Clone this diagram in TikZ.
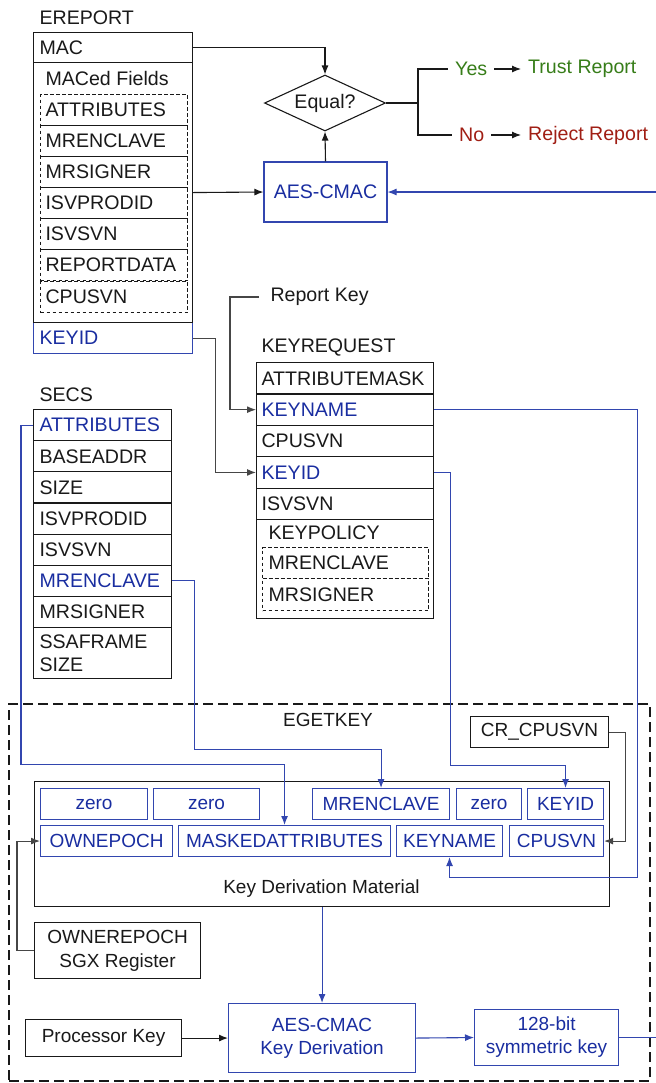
\documentclass[tikz,border=0pt]{standalone}
\usepackage{fontspec}
\setmainfont{Liberation Sans}
\usepackage{xcolor}
\usepackage{tikz}
\usetikzlibrary{shapes.geometric}
\usetikzlibrary{arrows.meta}
\usetikzlibrary{positioning}

\definecolor{ink}{RGB}{25,25,25}
\definecolor{wiregray}{RGB}{70,70,70}
\definecolor{kblue}{RGB}{25,45,160}
\definecolor{kline}{RGB}{50,70,175}
\definecolor{yesgreen}{RGB}{55,125,25}
\definecolor{nored}{RGB}{160,30,20}

\newcommand{\fieldfont}{\fontsize{9.8}{11.5}\selectfont}
\newcommand{\kdmfont}{\fontsize{9.5}{11.5}\selectfont}

\begin{document}
\begin{tikzpicture}[
    x=0.5pt, y=-0.5pt, line width=0.55pt,
    >={Latex[length=4.5pt,width=3.5pt]},
    every node/.style={font=\fieldfont, text=ink},
    field/.style={draw=ink, anchor=north west, inner xsep=3pt, inner ysep=0pt, align=left, text width=#1},
    dfield/.style={field=#1, dash pattern=on 1.8pt off 1.2pt, inner xsep=2.5pt},
    kfield/.style={draw=kline, anchor=north west, inner sep=0pt, minimum height=15.5pt, text=kblue, font=\kdmfont},
    plainbox/.style={draw=ink, anchor=north west, inner sep=0pt, align=center},
    wire/.style={draw=wiregray, ->},
    bwire/.style={draw=kline, ->},
  ]

  \useasboundingbox (0,0) rectangle (656,1083);

  % EREPORT
  \node[anchor=west, inner sep=0pt] (ereport) at (39,18) {EREPORT};
  \node[field=73.5pt, minimum height=15pt] (mac) at (33,32) {MAC};
  \node[field=73.5pt, minimum height=15.5pt, draw=kline, text=kblue] (ekeyid) at (33,322) {KEYID};
  \node[plainbox, minimum width=79.5pt, minimum height=130pt] (maced) at (33,62) {};
  \node[anchor=west, inner sep=0pt] (macedlbl) at (45,78) {MACed Fields};
  \node[dfield=68.5pt, minimum height=15.5pt] (eattr) at (40,94) {ATTRIBUTES};
  \node[dfield=68.5pt, minimum height=15.5pt] (emren) at (40,125) {MRENCLAVE};
  \node[dfield=68.5pt, minimum height=15.5pt] (emrsig) at (40,156) {MRSIGNER};
  \node[dfield=68.5pt, minimum height=15.5pt] (eprod) at (40,187) {ISVPRODID};
  \node[dfield=68.5pt, minimum height=15.5pt] (esvn) at (40,218) {ISVSVN};
  \node[dfield=68.5pt, minimum height=15.5pt] (edata) at (40,249) {REPORTDATA};
  \node[dfield=68.5pt, minimum height=15.5pt] (ecpu) at (40,281) {CPUSVN};

  % check of the MAC
  \node[diamond, draw=ink, aspect=2.2, inner sep=0pt, minimum width=60.5pt, minimum height=28pt] (equal) at (325,103) {Equal?};
  \node[draw=kline, text=kblue, minimum width=61.5pt, minimum height=30pt, inner sep=0pt] (cmac) at (325.5,192) {AES-CMAC};
  \coordinate (split) at (418,103);
  \node[anchor=west, text=yesgreen] (yes) at (448,69) {Yes};
  \node[anchor=west, text=yesgreen] (trust) at (521,69) {Trust Report};
  \node[anchor=west, text=nored] (no) at (452,135) {No};
  \node[anchor=west, text=nored] (reject) at (521,135) {Reject Report};

  % KEYREQUEST
  \node[anchor=west, inner xsep=5.5pt] (repkey) at (259,297) {Report Key};
  \node[anchor=west, inner sep=0pt] (keyreq) at (261,348) {KEYREQUEST};
  \node[field=83.5pt, inner xsep=2.5pt, minimum height=15.7pt] (rmask) at (256,362) {ATTRIBUTEMASK};
  \node[field=83.5pt, inner xsep=2.5pt, minimum height=15.7pt, text=kblue] (rkname) at (256,393.4) {KEYNAME};
  \node[field=83.5pt, inner xsep=2.5pt, minimum height=15.7pt] (rcpu) at (256,424.8) {CPUSVN};
  \node[field=83.5pt, inner xsep=2.5pt, minimum height=15.7pt, text=kblue] (rkeyid) at (256,456.2) {KEYID};
  \node[field=83.5pt, inner xsep=2.5pt, minimum height=15.7pt] (rsvn) at (256,487.6) {ISVSVN};
  \node[plainbox, minimum width=88.5pt, minimum height=49.5pt] (rpolicy) at (256,519) {};
  \node[anchor=west, inner sep=0pt] (policylbl) at (268,533) {KEYPOLICY};
  \node[dfield=77pt, inner xsep=3pt, minimum height=15.5pt] (pmren) at (262,547) {MRENCLAVE};
  \node[dfield=77pt, inner xsep=3pt, minimum height=16pt] (pmrsig) at (262,578) {MRSIGNER};

  % SECS
  \node[anchor=west, inner sep=0pt] (secs) at (39,395) {SECS};
  \node[field=63pt, minimum height=15.6pt, text=kblue] (sattr) at (33,409) {ATTRIBUTES};
  \node[field=63pt, minimum height=15.6pt] (sbase) at (33,440.1) {BASEADDR};
  \node[field=63pt, minimum height=15.6pt] (ssize) at (33,471.3) {SIZE};
  \node[field=63pt, minimum height=15.6pt] (sprod) at (33,502.4) {ISVPRODID};
  \node[field=63pt, minimum height=15.6pt] (ssvn) at (33,533.6) {ISVSVN};
  \node[field=63pt, minimum height=15.6pt, text=kblue] (smren) at (33,564.7) {MRENCLAVE};
  \node[field=63pt, minimum height=15.6pt] (smrsig) at (33,595.9) {MRSIGNER};
  \node[field=63pt, minimum height=25.5pt] (sssa) at (33,627) {SSAFRAME\\SIZE};

  % EGETKEY
  \node[draw=ink, line width=1.1pt, dash pattern=on 5pt off 2.5pt, anchor=north west, minimum width=320.5pt, minimum height=188.5pt, inner sep=0pt] (egetkey) at (8,703) {};
  \node[font=\kdmfont] (egetlbl) at (328,720) {EGETKEY};
  \node[plainbox, minimum width=69pt, minimum height=15.5pt, font=\kdmfont] (crcpu) at (470,716) {CR\_CPUSVN};
  \node[plainbox, minimum width=287.5pt, minimum height=62.5pt] (kdm) at (34,781) {};
  \node[font=\kdmfont] (kdmlbl) at (321.5,889) {Key Derivation Material};
  \node[kfield, minimum width=53.5pt] (kzeroa) at (40,788) {zero};
  \node[kfield, minimum width=53pt] (kzerob) at (153,788) {zero};
  \node[kfield, minimum width=68.5pt] (kmren) at (312,788) {MRENCLAVE};
  \node[kfield, minimum width=32.5pt] (kzeroc) at (456,788) {zero};
  \node[kfield, minimum width=38pt] (kkeyid) at (527,788) {KEYID};
  \node[kfield, minimum width=66pt] (kown) at (40,825) {OWNEPOCH};
  \node[kfield, minimum width=106pt] (kmattr) at (178,825) {MASKEDATTRIBUTES};
  \node[kfield, minimum width=53pt] (kkname) at (396,825) {KEYNAME};
  \node[kfield, minimum width=47pt] (kcpu) at (509,825) {CPUSVN};
  \node[plainbox, minimum width=83pt, minimum height=28pt, font=\fontsize{9.5}{12}\selectfont] (oreg) at (34,922) {OWNEREPOCH\\SGX Register};
  \node[plainbox, minimum width=78pt, minimum height=18.5pt, font=\kdmfont] (pkey) at (25,1019) {Processor Key};
  \node[plainbox, draw=kline, text=kblue, minimum width=93.5pt, minimum height=34.5pt, font=\kdmfont] (kd) at (228,1003) {AES-CMAC\\Key Derivation};
  \node[plainbox, draw=kline, text=kblue, minimum width=72pt, minimum height=28pt, font=\kdmfont] (sym) at (474,1009) {128-bit\\symmetric key};

  \draw[->, draw=ink] (mac.east) -| (equal.north);
  \draw[->, draw=ink] (maced.east) -- (cmac.west);
  \draw[->, draw=ink] (cmac.north) -- (equal.south);
  \draw[draw=ink] (equal.east) -- (split);
  \draw[draw=ink] (split) |- (yes.west);
  \draw[draw=ink] (split) |- (no.west);
  \draw[->, draw=ink] (yes.east) -- (trust.west);
  \draw[->, draw=ink] (no.east) -- (reject.west);
  \draw[bwire] (sym.east) -- ++(120,0) |- (cmac.east);  % runs off the page edge

  \draw[wire] (repkey.west) -- ++(-29,0) |- (rkname.west);
  \draw[wire] (ekeyid.east) -- ++(22,0) |- (rkeyid.west);

  \draw[bwire] (sattr.west) -- ++(-12,0) -- ++(0,339) -| (kmattr.north);
  \draw[bwire] (smren.east) -- ++(22,0) -- ++(0,169) -| (kmren.north);
  \draw[bwire] (rkeyid.east) -- ++(16,0) -- ++(0,293) -| (kkeyid.north);
  \draw[bwire] (rkname.east) -- ++(203,0) -- ++(0,468) -| (kkname.south);

  \draw[wire] (crcpu.east) -- ++(16,0) |- (kcpu.east);
  \draw[wire] (oreg.west) -- ++(-17,0) |- (kown.west);
  \draw[bwire] (kdm.south) -- (kd.north);
  \draw[->, draw=ink] (pkey.east) -- (kd.west);
  \draw[bwire] (kd.east) -- (sym.west);

\end{tikzpicture}
\end{document}
